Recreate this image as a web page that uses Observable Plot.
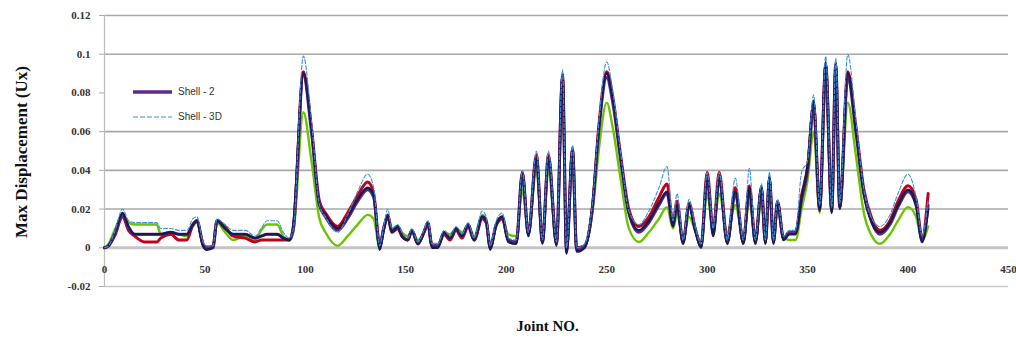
<!DOCTYPE html>
<html><head><meta charset="utf-8">
<script src="https://cdn.jsdelivr.net/npm/d3@7"></script>
<script src="https://cdn.jsdelivr.net/npm/@observablehq/plot@0.6"></script>
<style>
body{margin:0;background:#fff}
#wrap{position:relative;width:1016px;height:343px}
.leg{position:absolute;display:flex;align-items:center;font:10px "Liberation Sans",sans-serif;color:#333}
.leg svg{margin-right:5px}
</style></head><body><div id="wrap"></div><script>
const joints = [0,2,5,9,12,15,20,26,28,33,37,41,44,46,49,51,54,56,60,64,70,75,78,81,86,89,92,94,99,103,107,110,116,121,126,131,134,137,139,141,143,146,148,151,153,156,159,161,163,166,169,172,175,178,181,184,188,190,192,195,198,201,205,208,211,215,218,221,225,228,230,233,235,239,243,246,250,253,257,261,266,271,276,280,283,285,288,291,294,297,300,303,306,310,314,318,321,324,327,329,331,333,335,338,341,344,347,350,353,356,359,362,364,366,370,374,378,382,386,391,395,400,404,407,410];
const shell2 = [0,0.001,0.007,0.017,0.010,0.007,0.007,0.007,0.007,0.008,0.007,0.007,0.012,0.014,0.002,0.000,0.000,0.014,0.010,0.007,0.007,0.005,0.006,0.007,0.007,0.005,0.004,0.010,0.089,0.060,0.022,0.016,0.009,0.015,0.024,0.030,0.026,0.001,0.010,0.017,0.009,0.011,0.007,0.004,0.009,0.002,0.008,0.013,0.001,0.001,0.008,0.005,0.010,0.006,0.012,0.004,0.016,0.014,0.000,0.012,0.016,0.004,0.003,0.038,0.007,0.047,0.003,0.047,0.002,0.089,-0.002,0.051,-0.001,0.001,0.022,0.060,0.088,0.075,0.045,0.018,0.008,0.013,0.022,0.028,0.012,0.022,0.003,0.022,0.010,0.001,0.036,0.007,0.036,0.003,0.028,0.003,0.030,0.003,0.030,0.003,0.036,0.003,0.023,0.005,0.008,0.008,0.025,0.040,0.074,0.020,0.095,0.019,0.095,0.021,0.088,0.060,0.028,0.013,0.007,0.012,0.021,0.029,0.022,0.004,0.022];
const shell3D = [0,0.001,0.008,0.020,0.014,0.013,0.013,0.013,0.010,0.010,0.009,0.009,0.015,0.016,0.003,0.001,0.001,0.015,0.012,0.009,0.009,0.006,0.010,0.014,0.014,0.008,0.005,0.010,0.099,0.066,0.022,0.016,0.008,0.017,0.029,0.038,0.031,0.001,0.011,0.020,0.010,0.012,0.008,0.005,0.010,0.003,0.009,0.014,0.002,0.002,0.009,0.006,0.011,0.007,0.013,0.005,0.019,0.016,0.001,0.014,0.018,0.005,0.004,0.040,0.008,0.050,0.004,0.050,0.003,0.092,0.000,0.053,0.000,0.002,0.024,0.064,0.096,0.081,0.048,0.019,0.012,0.019,0.031,0.042,0.014,0.028,0.004,0.025,0.011,0.002,0.039,0.010,0.039,0.004,0.036,0.004,0.041,0.004,0.033,0.004,0.039,0.004,0.025,0.006,0.009,0.009,0.039,0.045,0.079,0.022,0.099,0.021,0.098,0.023,0.100,0.066,0.030,0.015,0.011,0.017,0.028,0.038,0.026,0.006,0.025];
const seriesRed = [0,0.001,0.006,0.016,0.009,0.006,0.003,0.003,0.005,0.007,0.004,0.004,0.012,0.014,0.002,0.000,0.001,0.014,0.011,0.006,0.005,0.003,0.004,0.004,0.004,0.004,0.004,0.010,0.091,0.062,0.024,0.018,0.011,0.018,0.027,0.034,0.028,0.001,0.010,0.016,0.008,0.010,0.006,0.004,0.009,0.002,0.008,0.012,0.001,0.001,0.007,0.004,0.009,0.005,0.011,0.004,0.015,0.013,0.000,0.012,0.015,0.004,0.003,0.039,0.007,0.048,0.003,0.048,0.002,0.088,-0.001,0.050,0.000,0.001,0.022,0.062,0.091,0.078,0.047,0.020,0.011,0.016,0.026,0.033,0.013,0.024,0.003,0.023,0.010,0.001,0.039,0.009,0.039,0.003,0.031,0.003,0.032,0.003,0.031,0.003,0.035,0.003,0.024,0.005,0.008,0.008,0.027,0.042,0.073,0.020,0.094,0.019,0.094,0.021,0.091,0.063,0.030,0.015,0.009,0.014,0.024,0.032,0.025,0.005,0.028];
const seriesGreen = [0,0.002,0.009,0.017,0.013,0.012,0.012,0.012,0.007,0.008,0.007,0.006,0.011,0.013,0.002,0.000,0.000,0.013,0.008,0.004,0.006,0.004,0.009,0.012,0.012,0.006,0.004,0.008,0.070,0.045,0.015,0.008,0.001,0.006,0.012,0.017,0.015,0.000,0.011,0.016,0.010,0.011,0.008,0.006,0.009,0.004,0.008,0.012,0.002,0.002,0.008,0.007,0.010,0.008,0.012,0.006,0.017,0.015,0.001,0.011,0.015,0.007,0.006,0.030,0.008,0.040,0.004,0.040,0.003,0.085,0.000,0.046,0.000,0.001,0.019,0.050,0.075,0.062,0.035,0.010,0.003,0.008,0.015,0.021,0.010,0.017,0.005,0.016,0.009,0.003,0.028,0.009,0.028,0.008,0.022,0.005,0.024,0.005,0.024,0.005,0.028,0.005,0.020,0.005,0.004,0.004,0.020,0.035,0.060,0.018,0.085,0.018,0.085,0.020,0.075,0.048,0.018,0.006,0.002,0.007,0.014,0.021,0.016,0.004,0.011];
const seriesNavy = [0,0.001,0.007,0.018,0.011,0.007,0.007,0.007,0.007,0.008,0.007,0.007,0.012,0.014,0.001,-0.001,0.000,0.014,0.010,0.007,0.007,0.005,0.006,0.007,0.007,0.005,0.004,0.012,0.090,0.062,0.022,0.017,0.010,0.016,0.025,0.031,0.027,-0.001,0.009,0.017,0.008,0.011,0.006,0.004,0.009,0.002,0.008,0.013,0.000,0.000,0.008,0.005,0.010,0.006,0.012,0.004,0.016,0.014,-0.001,0.012,0.016,0.003,0.002,0.039,0.006,0.047,0.002,0.047,0.001,0.090,-0.003,0.052,-0.002,0.000,0.023,0.061,0.090,0.077,0.046,0.018,0.009,0.014,0.023,0.029,0.011,0.022,0.002,0.022,0.009,0.000,0.036,0.006,0.036,0.002,0.029,0.002,0.031,0.002,0.032,0.002,0.037,0.002,0.024,0.004,0.007,0.007,0.026,0.042,0.076,0.019,0.096,0.018,0.096,0.020,0.090,0.061,0.028,0.013,0.008,0.013,0.022,0.030,0.022,0.003,0.020];
const yTicks = [-0.02,0,0.02,0.04,0.06,0.08,0.1,0.12];
const gridY = [0.02,0.04,0.06,0.1,0.12];
const xTicks = [0,50,100,150,200,250,300,350,400,450];

const series = [
  {name:"Green", values:seriesGreen, stroke:"#6cc400", width:2.4, dash:null},
  {name:"Red", values:seriesRed, stroke:"#c0001c", width:3, dash:null},
  {name:"Shell - 2", values:shell2, stroke:"#5e2a88", width:3, dash:null},
  {name:"Navy", values:seriesNavy, stroke:"#1a1a50", width:2.4, dash:null},
  {name:"Shell - 3D", values:shell3D, stroke:"#3d92da", width:1.1, dash:"4,2"}
];
const lineMarks = series.map(s => Plot.line(joints.map((j,i)=>({x:j, y:s.values[i]})), {
  x:"x", y:"y", stroke:s.stroke, strokeWidth:s.width, strokeDasharray:s.dash, curve:"monotone-x", strokeLinejoin:"round"
}));

const chart = Plot.plot({
  width:1016, height:343,
  marginLeft:104, marginRight:8, marginTop:15, marginBottom:57,
  style:{background:"#fff", fontFamily:"Liberation Serif, serif"},
  x:{domain:[0,450], axis:null},
  y:{domain:[-0.02,0.12], axis:null},
  marks:[
    Plot.ruleY(gridY, {stroke:"#a8a8a8", strokeWidth:1.6}),
    Plot.ruleY([-0.02], {stroke:"#c8c8c8", strokeWidth:1.4}),
    Plot.ruleY([0], {stroke:"#c4c4c4", strokeWidth:3}),
    Plot.ruleX([0], {y1:-0.02, y2:0.12, stroke:"#bdbdbd", strokeWidth:1.2}),
    Plot.axisY(yTicks, {anchor:"left", tickSize:5, tickPadding:9, stroke:"#aaa", fill:"#333", fontSize:11, fontWeight:"bold",
      tickFormat: d => String(+d.toFixed(2)), label:null}),
    Plot.text(xTicks, {x:d=>d, y:0, dy:22, text:d=>String(d), fontSize:11, fontWeight:"bold", fill:"#333"}),
    ...lineMarks,
    Plot.text(["Joint NO."], {frameAnchor:"bottom", dy:44, dx:-9, text:d=>d, fontSize:15, fontWeight:"bold", fill:"#111"}),
  ]
});
const wrap = document.getElementById("wrap");
wrap.appendChild(chart);

// rotated y title
const ns = "http://www.w3.org/2000/svg";
const t = document.createElementNS(ns, "text");
t.setAttribute("transform", "translate(27,152) rotate(-90)");
t.setAttribute("text-anchor", "middle");
t.setAttribute("font-family", "Liberation Serif, serif");
t.setAttribute("font-size", "17");
t.setAttribute("font-weight", "bold");
t.setAttribute("fill", "#111");
t.textContent = "Max Displacement (Ux)";
chart.appendChild(t);

// legend
const legendItems = [
  {label:"Shell - 2", stroke:"#5e2a88", width:3.5, dash:null, top:86},
  {label:"Shell - 3D", stroke:"#3d92da", width:1.2, dash:"5,2", top:111}
];
for (const it of legendItems) {
  const d = document.createElement("div");
  d.className = "leg";
  d.style.left = "133px"; d.style.top = it.top + "px";
  d.innerHTML = `<svg width="40" height="10"><line x1="0" y1="5" x2="39" y2="5" stroke="${it.stroke}" stroke-width="${it.width}" ${it.dash?`stroke-dasharray="${it.dash}"`:""}/></svg><span>${it.label}</span>`;
  wrap.appendChild(d);
}
</script></body></html>
